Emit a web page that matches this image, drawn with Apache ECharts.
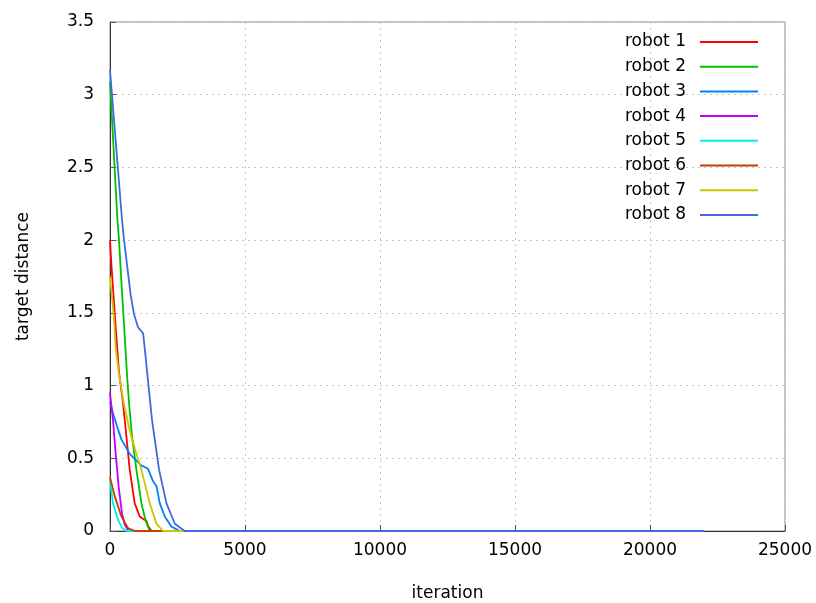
<!DOCTYPE html>
<html>
<head>
<meta charset="utf-8">
<script src="https://cdn.jsdelivr.net/npm/echarts@6/dist/echarts.min.js"></script>
<style>
  html, body { margin: 0; padding: 0; background: #fff; }
  #chart { width: 816px; height: 603px; }
</style>
</head>
<body>
<div id="chart"></div>
<script>
// robot names and colours (gnuplot default palette)
var names = ['robot 1', 'robot 2', 'robot 3', 'robot 4', 'robot 5', 'robot 6', 'robot 7', 'robot 8'];
var colors = ['#ff0000', '#00c000', '#0080ff', '#c000ff', '#00eeee', '#c04000', '#c8c800', '#4169e1'];

// iteration / target distance
var r1x = [0, 52, 137, 223, 334, 482, 608, 731, 916, 1102, 1250, 1350, 1410, 1536, 22000];
var r1y = [2.0, 1.83, 1.60, 1.37, 1.09, 0.88, 0.65, 0.42, 0.19, 0.10, 0.08, 0.07, 0.035, 0, 0];

var r2x = [0, 174, 274, 334, 422, 496, 571, 631, 705, 816, 979, 1165, 1313, 1473, 22000];
var r2y = [3.09, 2.49, 2.14, 2.0, 1.71, 1.49, 1.26, 1.07, 0.88, 0.65, 0.42, 0.19, 0.076, 0, 0];

var r3x = [0, 111, 260, 423, 731, 1165, 1400, 1600, 1720, 1844, 2029, 2278, 2586, 22000];
var r3y = [0.89, 0.81, 0.72, 0.63, 0.53, 0.45, 0.43, 0.34, 0.31, 0.19, 0.10, 0.03, 0, 0];

var r4x = [0, 111, 211, 323, 445, 550, 694, 22000];
var r4y = [0.95, 0.76, 0.53, 0.30, 0.12, 0.04, 0, 0];

var r5x = [0, 111, 297, 450, 608, 22000];
var r5y = [0.35, 0.19, 0.076, 0.02, 0, 0];

var r6x = [0, 174, 423, 668, 916, 22000];
var r6y = [0.37, 0.24, 0.10, 0.02, 0, 0];

var r7x = [0, 137, 211, 323, 508, 731, 979, 1165, 1473, 1721, 1966, 22000];
var r7y = [1.75, 1.49, 1.26, 1.09, 0.88, 0.69, 0.53, 0.42, 0.19, 0.05, 0, 0];

var r8x = [0, 445, 520, 631, 768, 890, 1040, 1225, 1313, 1387, 1558, 1818, 2092, 2400, 2771, 22000];
var r8y = [3.17, 2.14, 2.0, 1.83, 1.62, 1.49, 1.40, 1.36, 1.21, 1.07, 0.76, 0.42, 0.19, 0.05, 0, 0];

var xs = [r1x, r2x, r3x, r4x, r5x, r6x, r7x, r8x];
var ys = [r1y, r2y, r3y, r4y, r5y, r6y, r7y, r8y];

var font = 'DejaVu Sans, sans-serif';

var series = names.map(function (name, i) {
    return {
        name: name,
        type: 'line',
        showSymbol: false,
        symbol: 'none',
        animation: false,
        lineStyle: {width: 1.8, color: colors[i]},
        itemStyle: {color: colors[i]},
        data: xs[i].map(function (x, k) { return [x, ys[i][k]]; })
    };
});

var chart = echarts.init(document.getElementById('chart'));
chart.setOption({
    backgroundColor: '#fff',
    animation: false,
    grid: {
        left: 110, right: 31, top: 22, bottom: 72,
        outerBoundsMode: 'none',
        containLabel: false,
        show: true, borderColor: '#8a8a8a', borderWidth: 1
    },
    legend: {
        orient: 'vertical',
        right: 53,
        top: 27,
        align: 'right',
        icon: 'rect',
        itemWidth: 58,
        itemHeight: 2,
        itemGap: 4.7,
        textStyle: {fontFamily: font, fontSize: 17, color: '#000', lineHeight: 20, padding: [0, 9, 0, 0]},
        data: names
    },
    xAxis: {
        type: 'value',
        min: 0, max: 25000, interval: 5000,
        name: 'iteration',
        nameLocation: 'middle',
        nameGap: 54,
        nameTextStyle: {fontFamily: font, fontSize: 17, color: '#000'},
        axisLine: {lineStyle: {color: '#333'}},
        axisTick: {inside: true, length: 6, lineStyle: {color: '#555'}},
        axisLabel: {
            fontFamily: font, fontSize: 17, color: '#000', margin: 11,
            formatter: function (v) { return String(v); }
        },
        splitLine: {show: true, lineStyle: {color: '#c8c8c8', type: [2, 4]}}
    },
    yAxis: {
        type: 'value',
        min: 0, max: 3.5, interval: 0.5,
        name: 'target distance',
        nameLocation: 'middle',
        nameGap: 78,
        nameTextStyle: {fontFamily: font, fontSize: 17, color: '#000'},
        axisLine: {show: true, lineStyle: {color: '#333'}},
        axisTick: {show: true, inside: true, length: 6, lineStyle: {color: '#555'}},
        axisLabel: {fontFamily: font, fontSize: 17, color: '#000', margin: 16},
        splitLine: {show: true, lineStyle: {color: '#c8c8c8', type: [2, 4]}}
    },
    series: series
});
</script>
</body>
</html>
